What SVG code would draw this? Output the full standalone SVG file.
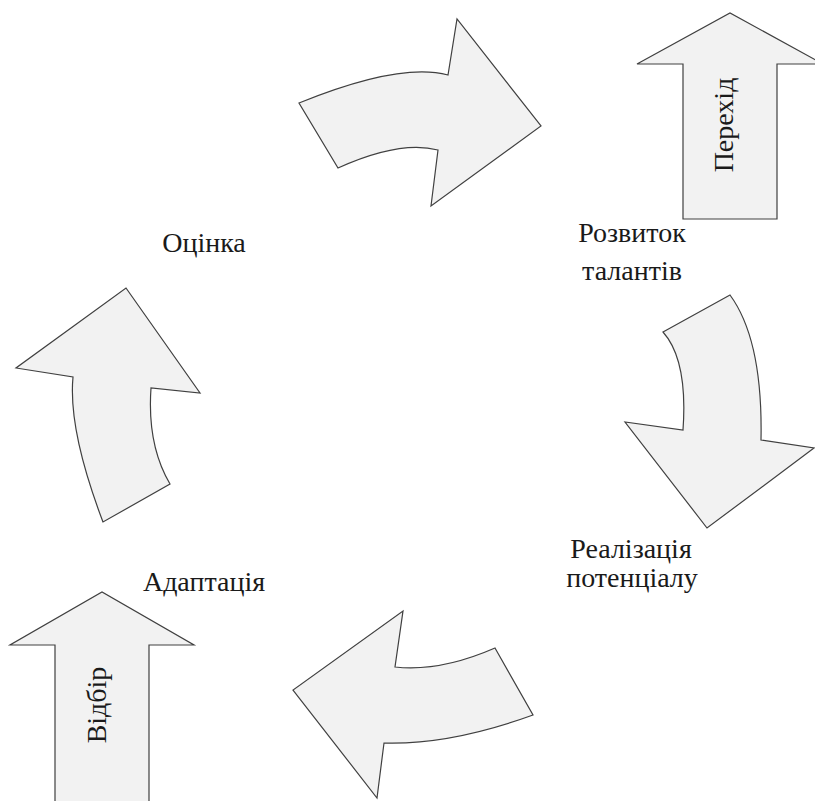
<svg xmlns="http://www.w3.org/2000/svg" width="815" height="801" viewBox="0 0 815 801">
<style>
.arr{fill:#f2f2f2;stroke:#404040;stroke-width:1.2;stroke-linejoin:miter}
.t{font-family:"Liberation Serif","Times New Roman",serif;font-size:28px;fill:#1a1a1a;text-anchor:middle}
</style>
<rect width="815" height="801" fill="#ffffff"/>
<g id="connectors">
<path id="arrow-top" class="arr" d="M299,103 Q400,62 448,75 L457,19 L541,126 L431,206 L438,150 Q400,140 338,168 Z"/>
<path id="arrow-right" class="arr" d="M663,332 L730,295 Q763,340 761,440 L814,448 L707,528 L625,422 L683,430 Q688,360 663,332 Z"/>
<path id="arrow-bottom" class="arr" d="M495,648 L533,715 Q450,745 384,743 L377,798 L293,690 L403,611 L395,667 Q440,672 495,648 Z"/>
<path id="arrow-left" class="arr" d="M103,522 Q68,430 73,377 L16,368 L126,288 L200,393 L151,388 Q147,445 170,484 Z"/>
</g>
<g id="node-perehid">
<path class="arr" d="M683,219 L683,64 L637,64 L730,13 L823,64 L777,64 L777,219 Z"/>
<text class="t" transform="translate(733,125) rotate(-90)">Перехід</text>
</g>
<g id="node-vidbir">
<path class="arr" d="M55,805 L55,645 L10,645 L102,592 L194,645 L149,645 L149,805 Z"/>
<text class="t" transform="translate(106,705) rotate(-90)">Відбір</text>
</g>
<g id="node-rozvytok">
<text class="t" x="632" y="242">Розвиток</text>
<text class="t" x="632" y="280">талантів</text>
</g>
<g id="node-realizatsiia">
<text class="t" x="631" y="558">Реалізація</text>
<text class="t" x="632" y="587">потенціалу</text>
</g>
<g id="node-adaptatsiia">
<text class="t" x="204" y="591">Адаптація</text>
</g>
<g id="node-otsinka">
<text class="t" x="204" y="252">Оцінка</text>
</g>
</svg>
